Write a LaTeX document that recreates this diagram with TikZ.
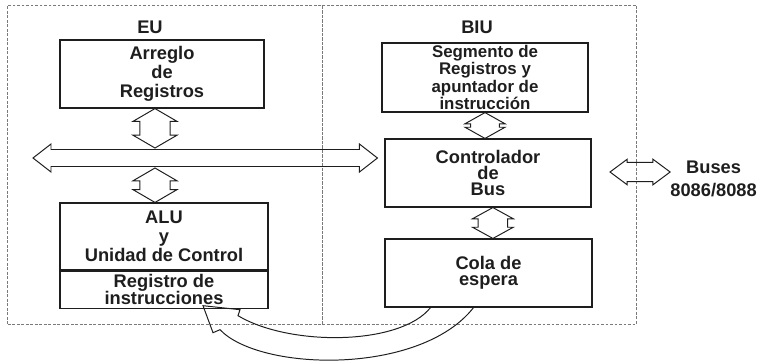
\documentclass[tikz,border=0pt]{standalone}
\usepackage{fontspec}
\setmainfont{Liberation Sans}
\usetikzlibrary{calc}
\definecolor{ink}{HTML}{1E1E1E}
\definecolor{frame}{HTML}{7A7A7A}

\begin{document}
\begin{tikzpicture}[
  font=\fontsize{13}{13.5}\selectfont\bfseries,
  text=ink,
  unit/.style={
    draw=frame,
    line width=0.7pt,
    dash pattern=on 2pt off 1.2pt,
    minimum width=7.86cm,
    minimum height=7.975cm,
    inner sep=0pt
  },
  block/.style={
    draw=ink,
    line width=0.8pt,
    align=center,
    inner sep=0pt,
    minimum width=5.15cm,
    minimum height=1.7cm
  },
  title/.style={inner sep=0pt, align=center},
  dblarrow/.style n args={3}{
    draw=ink, line width=0.7pt, line join=miter,
    to path={let \p1=(\tikztostart), \p2=(\tikztotarget),
      \n1={atan2(\y2-\y1,\x2-\x1)}, \n2={veclen(\x2-\x1,\y2-\y1)} in
      [shift={(\p1)}, rotate=\n1]
      (0,0) -- (#3,#2) -- (#3,#1) -- ({\n2-#3},#1) -- ({\n2-#3},#2) -- (\n2,0)
      -- ({\n2-#3},-#2) -- ({\n2-#3},-#1) -- (#3,-#1) -- (#3,-#2) -- cycle}
  },
  hollow/.style={draw=ink, line width=0.7pt, line join=miter}
]
\useasboundingbox (0,0) rectangle (18.975,-9);

% the two units
\node[unit] (eu) at (4.125,-4.1125) {};
\node[unit] (biu) at (11.985,-4.1125) {};
\node[title] (eutitle) at (3.75,-0.675) {EU};
\node[title] (biutitle) at (11.925,-0.675) {BIU};

\node[block, minimum width=5.1cm] (arreglo) at (4.05,-1.85) {Arreglo\\de\\Registros};
\node[block, minimum height=1.725cm, font=\fontsize{12}{12.4}\selectfont\bfseries] (segmento) at (12.125,-1.9375) {Segmento de\\Registros y\\apuntador de\\instrucción};
\node[block] (control) at (12.2,-4.325) {Controlador\\[-2pt]de\\[-2pt]Bus};
\node[block, minimum width=5.175cm] (cola) at (12.2125,-6.825) {Cola de\\[-2pt]espera};
\node[block, minimum width=5.2cm, minimum height=1.675cm] (alu) at (4.1,-5.9125) {ALU\\y\\Unidad de Control};
\node[block, minimum width=5.2cm, minimum height=0.925cm, anchor=north] (registro) at (alu.south) {Registro de\\[-1.5pt]instrucciones};

\node[title] (buses) at (17.84,-4.4625) {Buses\\[3pt]8086/8088};

\coordinate (busL) at (0.825,-3.95);
\coordinate (busR) at ([xshift=-1.75mm]control.west |- busL);
\coordinate (busU) at (3.875,-3.7);
\coordinate (busD) at (3.875,-4.2);
\coordinate (qtop) at ([xshift=1.1mm]cola.north);
\coordinate (extL) at (15.25,-4.3);

% internal bus
\draw[dblarrow={0.2125cm}{0.35cm}{0.45cm}] (busL) to (busR);
\draw[dblarrow={0.38cm}{0.55cm}{0.32cm}] (arreglo.south -| busU) to (busU);
\draw[dblarrow={0.38cm}{0.55cm}{0.32cm}] (busD) to (alu.north -| busD);
\draw[dblarrow={0.36cm}{0.5cm}{0.28cm}] (segmento.south) to (segmento.south |- control.north);
\draw[dblarrow={0.37cm}{0.51cm}{0.28cm}] (qtop |- control.south) to (qtop);
\draw[dblarrow={0.24cm}{0.32cm}{0.43cm}] (extL) to (buses.west |- extL);

% queue back to the instruction register
\draw[hollow] ([xshift=-3.75mm]cola.south) .. controls +(-1.325,-1.7) and +(1.0,-1.05) .. ($(registro.south)+(1.4,-0.525)$)
  -- ($(registro.south)+(1.225,-0.6)$) -- ($(registro.south)+(0.975,0.075)$)
  -- ($(registro.south)+(1.9,-0.025)$) -- ($(registro.south)+(1.85,-0.175)$)
  .. controls +(1.3,-0.775) and +(-0.75,-0.95) .. ([xshift=-14.5mm]cola.south);

\end{tikzpicture}
\end{document}
